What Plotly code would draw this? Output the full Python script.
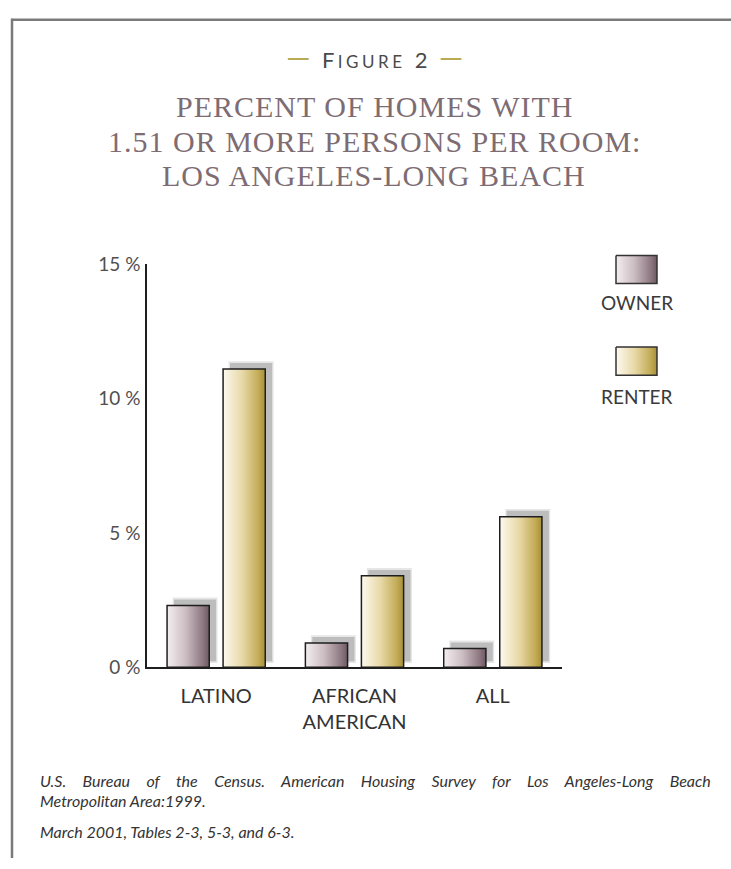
import plotly.graph_objects as go

# ---------------- data ----------------
categories = ["LATINO", "AFRICAN<br>AMERICAN", "ALL"]
owner_pct = [2.3, 0.9, 0.7]
renter_pct = [11.1, 3.4, 5.6]
y_tickvals = [0, 5, 10, 15]
y_ticktext = ["0 %", "5 %", "10 %", "15 %"]
series_names = ["OWNER", "RENTER"]

# ---------------- style ----------------
W, H = 731, 869
PLOT_X0, PLOT_X1 = 147, 562
PLOT_Y0, PLOT_Y1 = 259, 673   # pixel rows (top, bottom)

BAR_W = 0.305
OFFSETS = [-0.355, 0.05]      # left edge of bar relative to category centre
SH_DX, SH_DY = 0.05, 0.22     # shadow offset in data units
LINE_COL = "#1e1e1e"

GRADS = {
    "OWNER": [[0, "#f4eef0"], [0.45, "#cbbcc1"], [0.85, "#8d7780"], [1, "#6e5962"]],
    "RENTER": [[0, "#fdf9ef"], [0.45, "#e8d9a8"], [0.85, "#c2aa55"], [1, "#a8903a"]],
}

fig = go.Figure()


def rect(x0, x1, y0, y1):
    return [x0, x1, x1, x0, x0], [y0, y0, y1, y1, y0]


# soft drop shadows first
for s, vals in enumerate([owner_pct, renter_pct]):
    for i, v in enumerate(vals):
        x0 = i + OFFSETS[s] + SH_DX
        xs, ys = rect(x0 - 0.01, x0 + BAR_W + 0.01, SH_DY - 0.06, v + SH_DY + 0.07)
        fig.add_trace(go.Scatter(x=xs, y=ys, mode="lines", fill="toself",
                                 fillcolor="rgba(200,200,200,0.45)", line=dict(width=0),
                                 hoverinfo="skip", showlegend=False))
        xs, ys = rect(x0, x0 + BAR_W, SH_DY, v + SH_DY)
        fig.add_trace(go.Scatter(x=xs, y=ys, mode="lines", fill="toself",
                                 fillcolor="#bdbdbd", line=dict(width=0),
                                 hoverinfo="skip", showlegend=False))

# bars with horizontal gradient
for s, vals in enumerate([owner_pct, renter_pct]):
    name = series_names[s]
    for i, v in enumerate(vals):
        x0 = i + OFFSETS[s]
        xs, ys = rect(x0, x0 + BAR_W, 0, v)
        fig.add_trace(go.Scatter(
            x=xs, y=ys, mode="lines", fill="toself",
            fillgradient=dict(type="horizontal", colorscale=GRADS[name]),
            line=dict(color=LINE_COL, width=1.5),
            name=name, showlegend=False,
            hovertemplate=f"{name}: {v}%<extra></extra>"))

# legend swatches on a helper axis (pixel-like units)
LEG_BOX = {"OWNER": (616, 657, 250, 279), "RENTER": (616, 657, 344, 373)}
for name in series_names:
    x0, x1, y0, y1 = LEG_BOX[name]
    xs, ys = rect(x0, x1, y0, y1)
    fig.add_trace(go.Scatter(
        x=xs, y=ys, mode="lines", fill="toself", xaxis="x2", yaxis="y2",
        fillgradient=dict(type="horizontal", colorscale=GRADS[name]),
        line=dict(color="#333333", width=1.5), hoverinfo="skip", showlegend=False))


def px(x):
    return x / W


def py(y):
    return 1 - y / H


def note(x, y, text, font, xanchor="center"):
    return dict(x=px(x), y=py(y), xref="paper", yref="paper", showarrow=False,
                xanchor=xanchor, yanchor="middle", text=text, font=font)


ann = []
sans = "Lato, 'Open Sans', sans-serif"
serif = "'Liberation Serif', 'DejaVu Serif', serif"
dash = "<span style='color:#b9aa55;font-size:31px'>\u2014</span>"
ann.append(note(375, 45,
                dash + "  <span style='letter-spacing:3.5px'>F"
                "<span style='font-size:17px'>IGURE</span> </span>2  " + dash,
                dict(family=sans, size=22, color="#4a4a4a")))
for txt, yy in [("PERCENT OF HOMES WITH", 97),
                ("1.51 OR MORE PERSONS PER ROOM:", 133),
                ("LOS ANGELES-LONG BEACH", 168)]:
    ann.append(note(374, yy, f"<span style='letter-spacing:1px'>{txt}</span>",
                    dict(family=serif, size=30, color="#7e6c73")))
for name, yy in [("OWNER", 298), ("RENTER", 395)]:
    ann.append(note(637, yy, name, dict(family=sans, size=19, color="#3a3a3a")))
foot = [("U.S. Bureau of the Census. American Housing Survey for Los Angeles-Long Beach", 789, 12.7),
        ("Metropolitan Area:1999.", 810, 0),
        ("March 2001, Tables 2-3, 5-3, and 6-3.", 842, 0)]
for txt, yy, ws in foot:
    ann.append(note(38, yy, f"<i><span style='word-spacing:{ws}px'>{txt}</span></i>",
                    dict(family=sans, size=16, color="#333333"), xanchor="left"))

shapes = [
    dict(type="line", xref="paper", yref="paper", x0=px(12), x1=px(12), y0=py(7), y1=0,
         line=dict(color="#7a7a7a", width=2.5)),
    dict(type="line", xref="paper", yref="paper", x0=px(11), x1=1, y0=py(8), y1=py(8),
         line=dict(color="#7a7a7a", width=2.5)),
]

fig.update_layout(
    width=W, height=H,
    margin=dict(l=0, r=0, t=0, b=0),
    paper_bgcolor="white", plot_bgcolor="white",
    xaxis=dict(domain=[px(PLOT_X0), px(PLOT_X1)], range=[-0.5, 2.5],
               tickvals=[0, 1, 2], ticktext=categories, showgrid=False, zeroline=False,
               showline=True, linecolor=LINE_COL, linewidth=1.5, ticks="",
               ticklabelstandoff=10,
               tickfont=dict(family=sans, size=20, color="#333333")),
    yaxis=dict(domain=[py(PLOT_Y1), py(PLOT_Y0)], range=[0, 15],
               tickvals=y_tickvals, ticktext=y_ticktext, showgrid=False, zeroline=False,
               showline=True, linecolor=LINE_COL, linewidth=1.5, ticks="",
               ticklabelstandoff=1,
               tickfont=dict(family=sans, size=19, color="#505050")),
    xaxis2=dict(domain=[px(590), px(690)], range=[590, 690], visible=False,
                anchor="y2", fixedrange=True),
    yaxis2=dict(domain=[py(420), py(230)], range=[420, 230], visible=False,
                anchor="x2", fixedrange=True),
    annotations=ann, shapes=shapes,
    showlegend=False,
)

fig.write_html("out.html", config={"displayModeBar": False},
               post_script="document.body.style.margin='0';document.body.style.overflow='hidden';")
